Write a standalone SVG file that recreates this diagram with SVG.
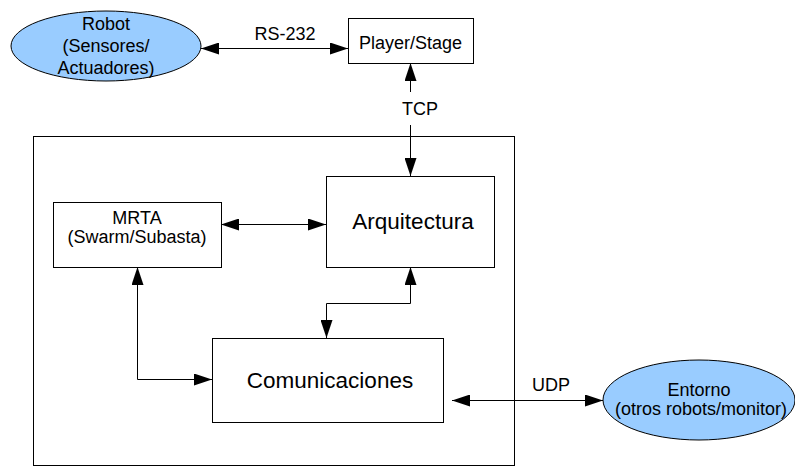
<svg xmlns="http://www.w3.org/2000/svg" width="795" height="467" viewBox="0 0 795 467">
<style>
.box{fill:#fff;stroke:#000;stroke-width:1}
.ell{fill:#99ccff;stroke:#000;stroke-width:1}
.frame{fill:none;stroke:#000;stroke-width:1}
.t{font-family:"Liberation Sans",Arial,sans-serif;font-size:18px;fill:#000;text-anchor:middle}
.tb{font-family:"Liberation Sans",Arial,sans-serif;font-size:22.5px;fill:#000;text-anchor:middle}
.c{fill:none;stroke:#000;stroke-width:1;marker-start:url(#ah);marker-end:url(#ah)}
.cs{fill:none;stroke:#000;stroke-width:1;marker-start:url(#ah)}
.ce{fill:none;stroke:#000;stroke-width:1;marker-end:url(#ah)}
</style>
<defs>
<marker id="ah" viewBox="0 0 18 12" refX="18" refY="6" markerWidth="18" markerHeight="12" markerUnits="userSpaceOnUse" orient="auto-start-reverse">
<path d="M0,0 L18,6 L0,12 z" fill="#000"/>
</marker>
</defs>
<rect class="frame" x="33.5" y="136.5" width="481" height="329"/>
<g id="robot">
<ellipse class="ell" cx="106" cy="46" rx="95" ry="35"/>
<text class="t" x="106" y="30">Robot</text>
<text class="t" x="106" y="52">(Sensores/</text>
<text class="t" x="106" y="74">Actuadores)</text>
</g>
<g id="player">
<rect class="box" x="348.5" y="18.5" width="125" height="45"/>
<text class="t" x="410.5" y="49">Player/Stage</text>
</g>
<g id="mrta">
<rect class="box" x="53.5" y="202.5" width="168" height="65"/>
<text class="t" x="137" y="224">MRTA</text>
<text class="t" x="137" y="243">(Swarm/Subasta)</text>
</g>
<g id="arquitectura">
<rect class="box" x="326.5" y="176.5" width="168" height="91"/>
<text class="tb" x="413" y="229">Arquitectura</text>
</g>
<g id="comunicaciones">
<rect class="box" x="212.5" y="338.5" width="231" height="84"/>
<text class="tb" x="330" y="388">Comunicaciones</text>
</g>
<g id="entorno">
<ellipse class="ell" cx="699" cy="400" rx="96" ry="40"/>
<text class="t" x="699" y="396">Entorno</text>
<text class="t" x="701" y="415">(otros robots/monitor)</text>
</g>
<g id="connectors">
<line class="c" x1="201" y1="48.5" x2="348" y2="48.5"/>
<text class="t" x="285" y="40">RS-232</text>
<line class="cs" x1="410.5" y1="63" x2="410.5" y2="92"/>
<line class="ce" x1="410.5" y1="125" x2="410.5" y2="176"/>
<text class="t" x="420" y="115">TCP</text>
<line class="c" x1="221" y1="224.5" x2="326" y2="224.5"/>
<path class="c" d="M137.5,267 V379.5 H212"/>
<path class="c" d="M410.5,267 V303.5 H326.5 V338"/>
<line class="c" x1="452" y1="400.5" x2="603" y2="400.5"/>
<text class="t" x="551" y="391">UDP</text>
</g>
</svg>
